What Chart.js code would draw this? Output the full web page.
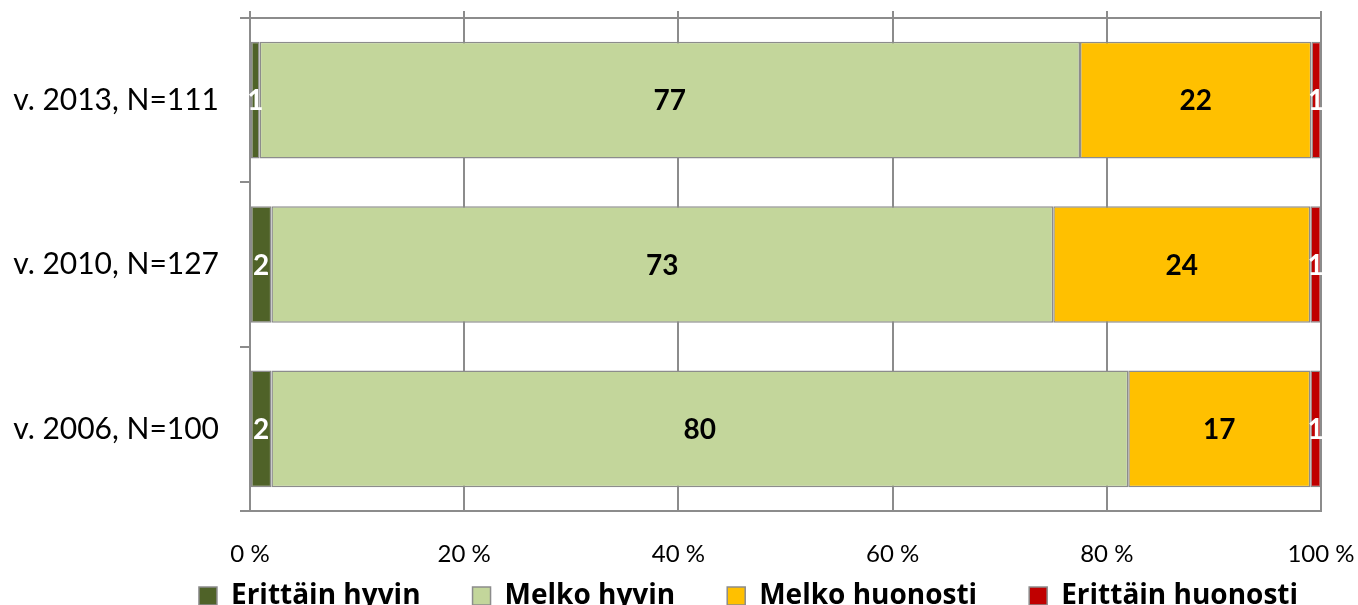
<!DOCTYPE html>
<html>
<head>
<meta charset="utf-8">
<script src="https://cdn.jsdelivr.net/npm/chart.js@4/dist/chart.umd.min.js"></script>
<style>
  html, body { margin: 0; padding: 0; background: #fff; overflow: hidden; }
  #wrap { width: 1358px; height: 605px; }
</style>
</head>
<body>
<div id="wrap"><canvas id="chart" width="1358" height="605"></canvas></div>
<script>
// vuodet / vastaajat
const categories = ["v. 2013, N=111", "v. 2010, N=127", "v. 2006, N=100"];
const seriesNames = ["Erittäin hyvin", "Melko hyvin", "Melko huonosti", "Erittäin huonosti"];
// osuudet %, luettu kuvasta
const erittainHyvin = [0.9, 2, 2];
const melkoHyvin = [76.6, 73, 80];
const melkoHuonosti = [21.6, 24, 17];
const erittainHuonosti = [0.9, 1, 1];
const xTicks = [0, 20, 40, 60, 80, 100];

const colors = ["#4f6228", "#c3d69b", "#ffc000", "#c00000"];
const labelColors = ["#ffffff", "#000000", "#000000", "#ffffff"];
const lineGray = "#8c8c8c";

Chart.defaults.font.family = "Lato";
Chart.defaults.color = "#000";

// numerot palkkien keskelle
const barLabels = {
  id: "barLabels",
  afterDatasetsDraw(chart) {
    const ctx = chart.ctx;
    ctx.save();
    ctx.font = "bold 28px Lato";
    ctx.textAlign = "center";
    ctx.textBaseline = "middle";
    chart.data.datasets.forEach((ds, i) => {
      chart.getDatasetMeta(i).data.forEach((bar, j) => {
        ctx.fillStyle = labelColors[i];
        ctx.fillText(Math.round(ds.data[j]), (bar.x + bar.base) / 2, bar.y + 1);
      });
    });
    ctx.restore();
  },
};

// yläreuna + legendan paikka
const frame = {
  id: "frame",
  beforeInit(chart) {
    const fit = chart.legend.fit;
    chart.legend.fit = function () {
      fit.call(this);
      this.height = 38;
    };
  },
  afterLayout(chart) {
    // legendan rivi alemmas ja vähän oikealle
    const lg = chart.legend;
    lg.top = lg.bottom - 75;
    lg.left = 57;
    lg.right = 1440;
  },
  beforeDatasetsDraw(chart) {
    const { ctx, chartArea } = chart;
    const x = chart.scales.x;
    ctx.save();
    ctx.strokeStyle = lineGray;
    ctx.lineWidth = 2;
    ctx.beginPath();
    ctx.moveTo(chartArea.left, chartArea.top);
    ctx.lineTo(chartArea.right, chartArea.top);
    // viivat jatkuvat hieman yläreunan yli
    xTicks.forEach((v) => {
      const px = Math.round(x.getPixelForValue(v));
      ctx.moveTo(px, chartArea.top - 7);
      ctx.lineTo(px, chartArea.top);
    });
    ctx.stroke();
    ctx.restore();
  },
};

const seriesData = [erittainHyvin, melkoHyvin, melkoHuonosti, erittainHuonosti];

const ctx = document.getElementById("chart").getContext("2d");
new Chart(ctx, {
  type: "bar",
  data: {
    labels: categories,
    datasets: seriesNames.map((name, i) => ({
      label: name,
      data: seriesData[i],
      backgroundColor: colors[i],
      borderColor: lineGray,
      borderWidth: 1.5,
      borderSkipped: false,
      barPercentage: 0.71,
      categoryPercentage: 1,
    })),
  },
  options: {
    indexAxis: "y",
    responsive: false,
    animation: false,
    devicePixelRatio: 1,
    layout: { padding: { left: 0, right: 37, top: 18, bottom: 0 } },
    scales: {
      x: {
        stacked: true,
        min: 0,
        max: 100,
        afterBuildTicks: (scale) => {
          scale.ticks = xTicks.map((v) => ({ value: v }));
        },
        afterFit: (scale) => {
          scale.height = 56;
          scale.paddingLeft = 0;
          scale.paddingRight = 0;
        },
        ticks: {
          padding: 29,
          font: { size: 24 },
          callback: (v) => v + " %",
        },
        grid: { color: lineGray, lineWidth: 2, drawTicks: false },
        border: { display: true, color: lineGray, width: 2 },
      },
      y: {
        stacked: true,
        afterFit: (scale) => {
          scale.width = 250;
          scale.paddingTop = 0;
          scale.paddingBottom = 0;
        },
        ticks: { padding: 21, font: { size: 30 } },
        grid: { drawOnChartArea: false, tickLength: 10, color: lineGray, lineWidth: 2 },
        border: { display: true, color: lineGray, width: 2 },
      },
    },
    plugins: {
      legend: {
        position: "bottom",
        labels: {
          padding: 52,
          boxWidth: 18,
          boxHeight: 18,
          font: { family: "Open Sans", size: 28, weight: "bold" },
          color: "#000",
        },
      },
      tooltip: { enabled: false },
    },
  },
  plugins: [barLabels, frame],
});
</script>
</body>
</html>
